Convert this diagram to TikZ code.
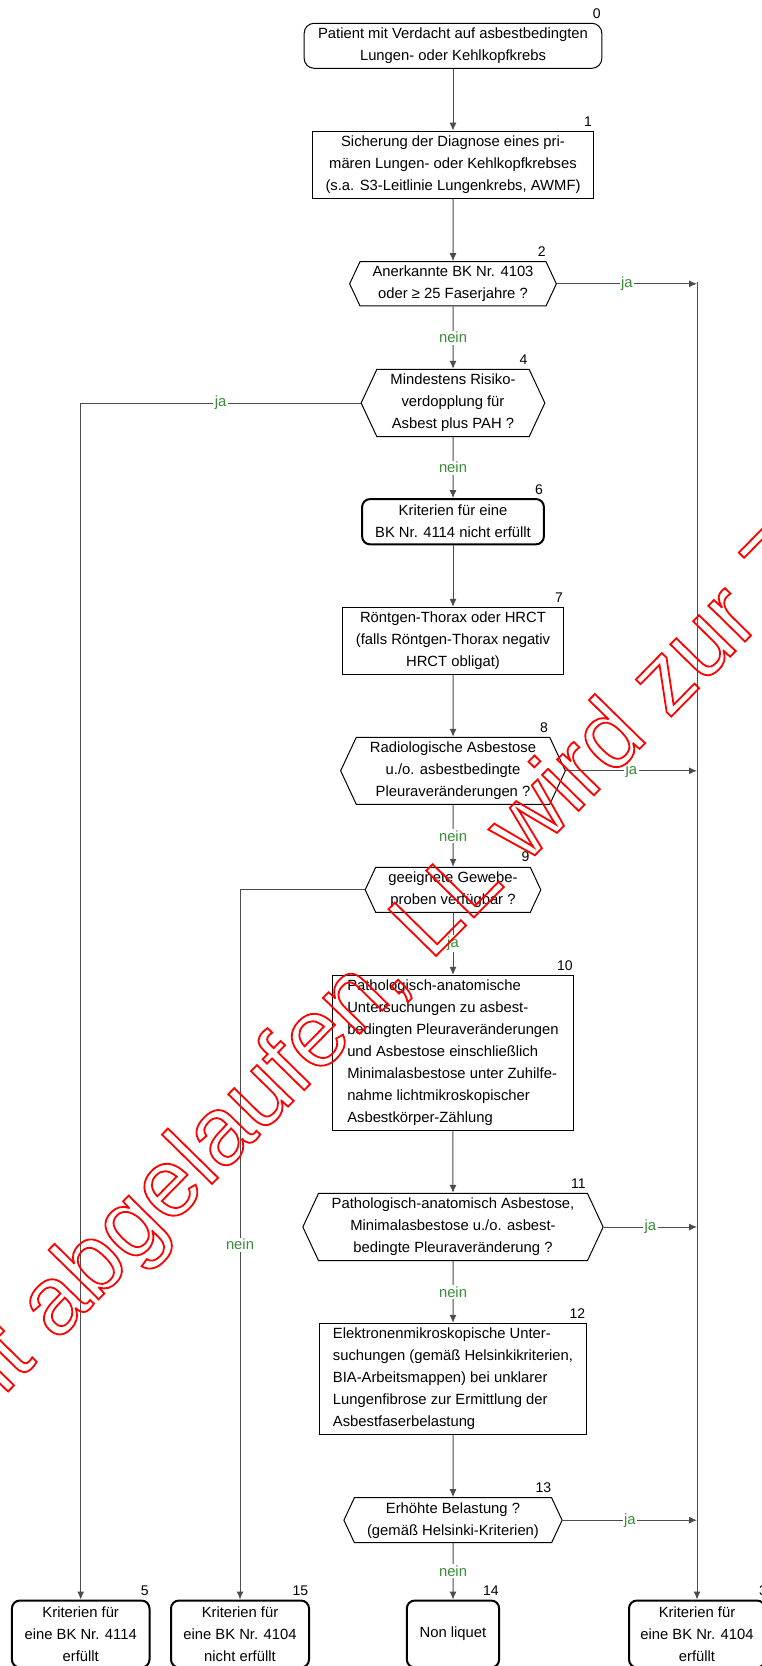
\documentclass[tikz,border=0pt]{standalone}
\usepackage{fontspec}
\setmainfont{Liberation Sans}
\usetikzlibrary{shapes.symbols,arrows.meta}
\definecolor{jagreen}{RGB}{56,140,56}
\tikzset{
	txt/.style={font=\fontsize{14.8}{22}\selectfont, align=center, inner sep=0pt},
	proc/.style={txt, draw, line width=1pt, rectangle},
	term/.style={txt, draw, line width=2pt, rounded corners=8pt},
	dec/.style={txt, draw, line width=1pt, shape=signal, signal to=east and west, signal pointer angle=130},
	nr/.style={font=\fontsize{14}{16}\selectfont, inner sep=0pt},
	lbl/.style={font=\fontsize{14.8}{16}\selectfont, text=jagreen, fill=white, inner sep=1.5pt},
	conn/.style={draw=black!70, line width=1pt},
	arr/.style={conn, -{Latex[length=8pt,width=7pt]}},
}
\def\boxnr#1#2#3{\node[nr] (n#3) at (#1,#2) {#3};}
\def\outlined#1{\special{pdf:literal 1 Tr 1.8 w 1 0 0 RG}#1\special{pdf:literal 0 Tr 0 G}}

\begin{document}
\begin{tikzpicture}[x=1pt,y=-1pt]
	\useasboundingbox (0,0) rectangle (762,1666);
	\clip (0,0) rectangle (762,1666);
	\fill[white] (0,0) rectangle (762,1666);

	\node[term, line width=1pt, rounded corners=10pt, minimum width=297.7pt, minimum height=45pt] (b0) at (453,45.8) {Patient mit Verdacht auf asbestbedingten\\Lungen- oder Kehlkopfkrebs};
	\node[proc, minimum width=281pt, minimum height=67.3pt] (b1) at (453,164.7) {Sicherung der Diagnose eines pri-\\mären Lungen- oder Kehlkopfkrebses\\(s.a. S3-Leitlinie Lungenkrebs, AWMF)};
	\node[dec, minimum width=206.7pt, minimum height=44.3pt] (d2) at (453,283.8) {Anerkannte BK Nr. 4103\\oder ≥ 25 Faserjahre ?};
	\node[dec, minimum width=183.7pt, minimum height=67.4pt] (d4) at (453,403) {Mindestens Risiko-\\verdopplung für\\Asbest plus PAH ?};
	\node[term, minimum width=181.8pt, minimum height=45.3pt] (b6) at (453,521.7) {Kriterien für eine\\BK Nr. 4114 nicht erfüllt};
	\node[proc, minimum width=221.6pt, minimum height=66.7pt] (b7) at (453,640.7) {Röntgen-Thorax oder HRCT\\(falls Röntgen-Thorax negativ\\HRCT obligat)};
	\node[dec, minimum width=224.7pt, minimum height=67pt] (d8) at (453,770.8) {Radiologische Asbestose\\u./o. asbestbedingte\\Pleuraveränderungen ?};
	\node[dec, minimum width=175.6pt, minimum height=45pt] (d9) at (453,889.8) {geeignete Gewebe-\\proben verfügbar ?};
	\node[proc, align=left, minimum width=240.2pt, minimum height=155.4pt] (b10) at (453,1053) {Pathologisch-anatomische\\Untersuchungen zu asbest-\\bedingten Pleuraveränderungen\\und Asbestose einschließlich\\Minimalasbestose unter Zuhilfe-\\nahme lichtmikroskopischer\\Asbestkörper-Zählung};
	\node[dec, minimum width=300.3pt, minimum height=67.4pt] (d11) at (453,1227) {Pathologisch-anatomisch Asbestose,\\Minimalasbestose u./o. asbest-\\bedingte Pleuraveränderung ?};
	\node[proc, align=left, minimum width=266.3pt, minimum height=111pt] (b12) at (453,1378.8) {Elektronenmikroskopische Unter-\\suchungen (gemäß Helsinkikriterien,\\BIA-Arbeitsmappen) bei unklarer\\Lungenfibrose zur Ermittlung der\\Asbestfaserbelastung};
	\node[dec, minimum width=218.2pt, minimum height=45pt] (d13) at (453,1520.2) {Erhöhte Belastung ?\\(gemäß Helsinki-Kriterien)};

	\node[term, minimum width=137.6pt, minimum height=67pt] (b5) at (80.7,1634) {Kriterien für\\eine BK Nr. 4114\\erfüllt};
	\node[term, minimum width=138pt, minimum height=67pt] (b15) at (240,1634) {Kriterien für\\eine BK Nr. 4104\\nicht erfüllt};
	\node[term, minimum width=92.3pt, minimum height=67pt] (b14) at (453,1634) {Non liquet};
	\node[term, minimum width=136pt, minimum height=67pt] (b3) at (697,1634) {Kriterien für\\eine BK Nr. 4104\\erfüllt};

	\boxnr{596.7}{13.3}{0}
	\boxnr{588}{121.7}{1}
	\boxnr{541.7}{251.7}{2}
	\boxnr{523.4}{360}{4}
	\boxnr{539}{489.3}{6}
	\boxnr{559}{597.3}{7}
	\boxnr{544}{727.3}{8}
	\boxnr{525.4}{856.7}{9}
	\boxnr{564.9}{965.7}{10}
	\boxnr{578.3}{1183.3}{11}
	\boxnr{577.3}{1314}{12}
	\boxnr{543.3}{1487.7}{13}
	\boxnr{144.8}{1590.7}{5}
	\boxnr{300.3}{1590.7}{15}
	\boxnr{490.8}{1590.7}{14}
	\boxnr{763}{1590.7}{3}

	\coordinate (rtop) at (697,282);

	\draw[arr] (b0) -- (b1);
	\draw[arr] (b1) -- (d2);
	\draw[arr] (d2) -- node[lbl]{nein} (d4);
	\draw[arr] (d2.east) -- node[lbl]{ja} (d2.east -| rtop);
	\draw[arr] (d4.west) -| node[lbl, pos=0.25]{ja} (b5.north);
	\draw[arr] (d4) -- node[lbl]{nein} (b6);
	\draw[arr] (b6) -- (b7);
	\draw[arr] (b7) -- (d8);
	\draw[arr] (d8.east) -- node[lbl]{ja} (d8.east -| rtop);
	\draw[arr] (d8) -- node[lbl]{nein} (d9);
	\draw[arr] (d9.west) -| node[lbl, pos=0.75]{nein} (b15.north);
	\draw[arr] (d9) -- node[lbl]{ja} (b10);
	\draw[arr] (b10) -- (d11);
	\draw[arr] (d11.east) -- node[lbl]{ja} (d11.east -| rtop);
	\draw[arr] (d11) -- node[lbl]{nein} (b12);
	\draw[arr] (b12) -- (d13);
	\draw[arr] (d13.east) -- node[lbl]{ja} (d13.east -| rtop);
	\draw[arr] (d13) -- node[lbl]{nein} (b14);
	\draw[arr] (rtop) -- (b3.north);

	% watermark
	\node[rotate=45.5, anchor=base west, inner sep=0pt, font=\fontsize{97}{97}\selectfont] (wm) at (-246,1650) {\outlined{Gültigkeit abgelaufen, LL wird zur Zeit überprüft}};
\end{tikzpicture}
\end{document}
